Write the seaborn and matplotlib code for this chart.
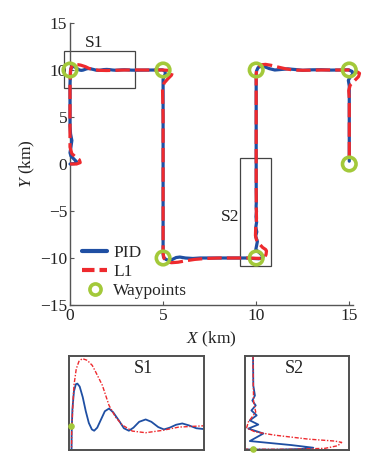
import matplotlib
matplotlib.use("Agg")
import matplotlib.pyplot as plt
import seaborn as sns
import pandas as pd
from matplotlib.lines import Line2D
from matplotlib.patches import Rectangle

# ---------------- data (km) ----------------
wp_x = [0, 5, 5, 10, 10, 15, 15]
wp_y = [10, 10, -10, -10, 10, 10, 0]

# start of the route (near the origin)
pid_start_x = [0.0, 0.25, 0.35, 0.2, 0.05, 0.0, 0.05, 0.1, 0.03, 0.0, 0.0, 0.0]
pid_start_y = [0.0, 0.05, 0.25, 0.55, 0.85, 1.2, 1.8, 2.5, 3.2, 4.0, 6.0, 8.5]
l1_start_x = [0.0, 0.35, 0.55, 0.5, 0.3, 0.1, 0.0, 0.0, 0.0, 0.0]
l1_start_y = [0.0, 0.0, 0.15, 0.45, 0.75, 1.1, 1.8, 3.0, 6.0, 8.5]

# detail S1 (turn at waypoint (0, 10))
pid_s1_x = [0.02, 0.03, 0.05, 0.09, 0.14, 0.18, 0.24, 0.32, 0.40, 0.48, 0.56, 0.62,
            0.70, 0.80, 0.90, 1.01, 1.12, 1.27, 1.40, 1.53, 1.65, 1.80, 1.97, 2.12,
            2.30, 2.45, 2.60, 2.77, 2.93, 3.10, 3.30, 3.50]
pid_s1_y = [9.50, 9.95, 10.15, 10.30, 10.36, 10.365, 10.34, 10.25, 10.13, 10.03, 9.975, 9.964,
            9.99, 10.06, 10.13, 10.153, 10.12, 10.05, 9.985, 9.964, 9.99, 10.04, 10.06, 10.04,
            9.995, 9.975, 9.99, 10.015, 10.026, 10.01, 9.985, 9.978]
l1_s1_x = [0.02, 0.03, 0.065, 0.09, 0.15, 0.22, 0.31, 0.44, 0.57, 0.66, 0.834, 1.009,
           1.18, 1.36, 1.62, 1.97, 2.41, 2.84, 3.50]
l1_s1_y = [9.50, 9.95, 10.21, 10.35, 10.49, 10.554, 10.578, 10.563, 10.52, 10.464, 10.351, 10.18,
           10.08, 10.012, 9.961, 9.947, 9.967, 9.995, 10.006]

# between S1 and S2
pid_mid1_x = [4.0, 4.6, 4.95, 5.1, 5.12, 5.05, 5.0, 5.0, 5.0, 5.0, 5.0, 5.02, 5.15, 5.3, 5.5,
              5.7, 5.9, 6.2, 6.6, 7.0, 8.0, 9.0]
pid_mid1_y = [9.99, 10.0, 10.02, 9.9, 9.6, 9.3, 9.0, 5.0, 0.0, -5.0, -9.5, -9.9, -10.15, -10.25,
              -10.15, -9.95, -9.9, -10.0, -10.05, -10.0, -10.0, -10.0]
l1_mid1_x = [4.0, 4.6, 5.0, 5.35, 5.5, 5.45, 5.25, 5.05, 4.97, 4.98, 5.0, 5.0, 5.0, 5.0, 5.05,
             5.2, 5.45, 5.8, 6.2, 6.7, 7.3, 8.0, 9.0]
l1_mid1_y = [10.0, 10.0, 10.0, 9.95, 9.75, 9.45, 9.05, 8.6, 8.0, 7.0, 5.0, 0.0, -5.0, -9.5,
             -10.05, -10.4, -10.5, -10.45, -10.3, -10.15, -10.05, -10.0, -10.0]

# detail S2 (turn at waypoint (10, -10))
pid_s2_x = [9.5, 9.95, 10.14, 10.30, 10.377, 10.24, 9.98, 10.065, 9.971, 10.033, 9.98, 10.023,
            9.99, 10.017, 9.996, 10.012, 10.002, 10.0]
pid_s2_y = [-10.0, -10.06, -10.08, -10.01, -9.86, -9.56, -9.10, -8.24, -7.68, -7.22, -6.74, -6.17,
            -5.61, -5.04, -4.48, -3.91, -2.79, 0.97]
l1_s2_x = [9.5, 9.95, 10.24, 10.45, 10.53, 10.554, 10.51, 10.346, 10.137, 10.012, 9.96, 9.971,
           10.002, 10.017, 10.004, 10.002, 10.0]
l1_s2_y = [-10.0, -10.03, -10.04, -9.93, -9.63, -9.25, -9.10, -8.88, -8.43, -8.05, -7.60, -6.92,
           -6.17, -5.79, -4.67, -2.79, 0.97]

# after S2 to the end
pid_end_x = [10.0, 10.0, 10.02, 10.1, 10.25, 10.45, 10.7, 11.0, 11.3, 11.7, 12.1, 12.5, 13.0,
             13.5, 14.0, 14.5, 14.95, 15.15, 15.2, 15.05, 14.95, 15.0, 15.0, 15.0]
pid_end_y = [5.0, 9.5, 9.9, 10.25, 10.4, 10.35, 10.15, 10.0, 10.05, 10.12, 10.05, 9.97, 10.02,
             10.03, 9.99, 10.0, 10.02, 9.85, 9.6, 9.25, 8.9, 8.3, 5.0, 0.3]
l1_end_x = [10.0, 10.0, 10.02, 10.1, 10.25, 10.5, 10.8, 11.2, 11.6, 12.0, 12.5, 13.0, 13.5,
            14.0, 14.5, 15.0, 15.35, 15.55, 15.5, 15.3, 15.05, 14.97, 15.0, 15.0]
l1_end_y = [5.0, 9.5, 9.95, 10.35, 10.55, 10.6, 10.5, 10.3, 10.12, 10.0, 9.97, 9.98, 10.0,
            10.0, 10.0, 10.0, 9.9, 9.65, 9.3, 8.9, 8.4, 7.8, 7.0, 0.3]

series_names = ["PID", "L1", "Waypoints"]

BLUE = "#1f4fa3"
RED = "#ee2a2e"
GREEN = "#a3c93a"
SPINE = "#555555"

# ---------------- build tables ----------------
pid = pd.DataFrame({
    "x": pid_start_x + pid_s1_x + pid_mid1_x + pid_s2_x + pid_end_x,
    "y": pid_start_y + pid_s1_y + pid_mid1_y + pid_s2_y + pid_end_y,
})
l1 = pd.DataFrame({
    "x": l1_start_x + l1_s1_x + l1_mid1_x + l1_s2_x + l1_end_x,
    "y": l1_start_y + l1_s1_y + l1_mid1_y + l1_s2_y + l1_end_y,
})
wps = pd.DataFrame({"x": wp_x, "y": wp_y})

sns.set_theme(style="white")
plt.rcParams["font.family"] = ["Liberation Serif", "DejaVu Serif"]
plt.rcParams["mathtext.fontset"] = "custom"
plt.rcParams["mathtext.rm"] = "Liberation Serif"
plt.rcParams["mathtext.it"] = "Liberation Serif:italic"

W, H = 371, 461
fig = plt.figure(figsize=(W / 100, H / 100), dpi=100)
ax = fig.add_axes([70 / W, 156 / H, 283 / W, 282 / H])

sns.lineplot(data=pid, x="x", y="y", sort=False, estimator=None, ax=ax,
             color=BLUE, lw=2.3, zorder=3)
sns.lineplot(data=l1, x="x", y="y", sort=False, estimator=None, ax=ax,
             color=RED, lw=2.3, zorder=4)
ax.lines[-1].set_dashes([4.5, 1.6])
for ln in ax.lines:
    ln.set_clip_on(False)
sns.scatterplot(data=wps, x="x", y="y", ax=ax, s=95, marker="o",
                color=GREEN, zorder=6, clip_on=False)
coll = ax.collections[-1]
coll.set_facecolor("none")
coll.set_edgecolor(GREEN)
coll.set_linewidth(2.6)

ax.set_xlim(0, 15.2)
ax.set_ylim(-15, 15)
ax.set_xticks([0, 5, 10, 15])
ax.set_yticks([-15, -10, -5, 0, 5, 10, 15])
sns.despine(ax=ax)
for s in ["left", "bottom"]:
    ax.spines[s].set_color(SPINE)
    ax.spines[s].set_linewidth(1.0)
ax.tick_params(axis="both", which="both", direction="in", length=3, width=0.8,
               colors=SPINE, labelcolor="#222222", labelsize=12.5, pad=2,
               left=True, bottom=True)
ax.set_xlabel(r"$\it{X}$ (km)", fontsize=12.5, color="#222222", labelpad=4)
ax.set_ylabel(r"$\it{Y}$ (km)", fontsize=12.5, color="#222222", labelpad=2)

# zoom boxes
ax.add_patch(Rectangle((-0.3, 8.1), 3.8, 3.9, fill=False, ec="#444444", lw=0.9,
                       clip_on=False, zorder=2))
ax.add_patch(Rectangle((9.15, -10.9), 1.65, 11.5, fill=False, ec="#444444", lw=0.9,
                       clip_on=False, zorder=2))
ax.text(1.3, 12.9, "S1", fontsize=12.5, ha="center", va="center", color="#222222")
ax.text(8.6, -5.6, "S2", fontsize=12.5, ha="center", va="center", color="#222222")

handles = [
    Line2D([], [], color=BLUE, lw=3),
    Line2D([], [], color=RED, lw=3, dashes=[3, 1.2]),
    Line2D([], [], color=GREEN, lw=0, marker="o", markersize=8,
           markerfacecolor="none", markeredgewidth=2.6),
]
ax.legend(handles, series_names, loc="upper left", bbox_to_anchor=(0.0, 0.255),
          frameon=False, fontsize=12.5, handlelength=1.45, handletextpad=0.35,
          labelspacing=0.15, borderpad=0.2)

# ---------------- insets ----------------
def style_inset(a):
    a.set_xticks([])
    a.set_yticks([])
    for s in a.spines.values():
        s.set_visible(True)
        s.set_color("#505050")
        s.set_linewidth(1.4)
    a.set_xlabel("")
    a.set_ylabel("")

ax1 = fig.add_axes([69 / W, 11 / H, 135 / W, 94 / H])
s1_pid = pd.DataFrame({"x": pid_s1_x, "y": pid_s1_y})
s1_l1 = pd.DataFrame({"x": l1_s1_x, "y": l1_s1_y})
sns.lineplot(data=s1_pid, x="x", y="y", sort=False, estimator=None, ax=ax1,
             color=BLUE, lw=1.3)
sns.lineplot(data=s1_l1, x="x", y="y", sort=False, estimator=None, ax=ax1,
             color=RED, lw=1.0)
ax1.lines[-1].set_dashes([3, 1.2, 1, 1.2])
ax1.scatter([wp_x[0]], [wp_y[0]], s=14, color=GREEN, zorder=5, clip_on=False)
ax1.set_xlim(-0.04, 3.5)
ax1.set_ylim(9.8, 10.6)
style_inset(ax1)
ax1.text(0.55, 0.87, "S1", transform=ax1.transAxes, fontsize=13, ha="center",
         va="center", color="#222222")

ax2 = fig.add_axes([245 / W, 11 / H, 104 / W, 94 / H])
s2_pid = pd.DataFrame({"x": pid_s2_x, "y": pid_s2_y})
s2_l1 = pd.DataFrame({"x": l1_s2_x, "y": l1_s2_y})
sns.lineplot(data=s2_pid, x="x", y="y", sort=False, estimator=None, ax=ax2,
             color=BLUE, lw=1.3)
sns.lineplot(data=s2_l1, x="x", y="y", sort=False, estimator=None, ax=ax2,
             color=RED, lw=1.0)
ax2.lines[-1].set_dashes([3, 1.2, 1, 1.2])
ax2.scatter([wp_x[3]], [wp_y[3]], s=14, color=GREEN, zorder=5, clip_on=False)
ax2.set_xlim(9.95, 10.6)
ax2.set_ylim(-10.12, 0.6)
style_inset(ax2)
ax2.text(0.47, 0.87, "S2", transform=ax2.transAxes, fontsize=13, ha="center",
         va="center", color="#222222")

fig.savefig("out.png", dpi=100)
